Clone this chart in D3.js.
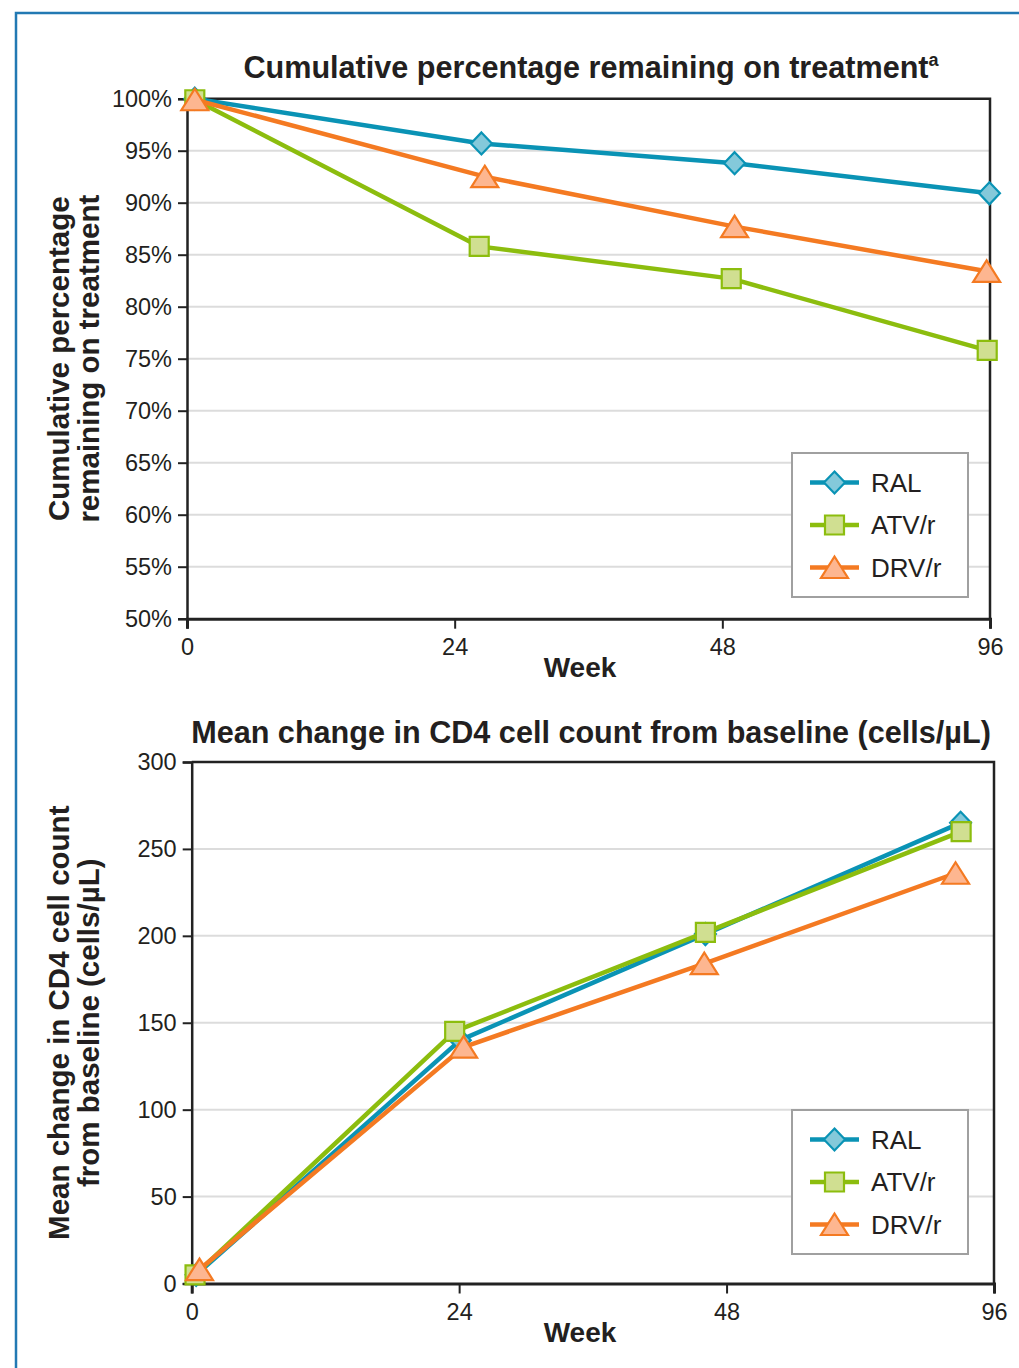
<!DOCTYPE html>
<html>
<head>
<meta charset="utf-8">
<script src="https://cdn.jsdelivr.net/npm/d3@7"></script>
<style>
  html, body { margin: 0; padding: 0; background: #ffffff; }
  svg { display: block; font-family: "Liberation Sans", Arial, Helvetica, sans-serif; }
</style>
</head>
<body>
<svg id="chart" width="1019" height="1368"></svg>
<script>
// ---------- DATA ----------
const weekTicks = [0, 24, 48, 96];
const seriesNames = ["RAL", "ATV/r", "DRV/r"];

// Panel 1: cumulative percentage remaining on treatment
const retentionTicks = [50, 55, 60, 65, 70, 75, 80, 85, 90, 95, 100];
const retentionWeeksRAL = [0.7, 26.4, 50.2, 95.9];
const retentionWeeksATV = [0.7, 26.2, 49.6, 95.5];
const retentionWeeksDRV = [0.7, 26.7, 50.2, 95.4];
const retentionRAL = [100.0, 95.7, 93.8, 90.9];
const retentionATV = [99.9, 85.8, 82.7, 75.8];
const retentionDRV = [99.9, 92.5, 87.7, 83.4];

// Panel 2: mean change in CD4 cell count from baseline (cells/µL)
const cd4Ticks = [0, 50, 100, 150, 200, 250, 300];
const cd4WeeksRAL = [0.4, 24.1, 46.1, 90.0];
const cd4WeeksATV = [0.3, 23.6, 46.1, 90.1];
const cd4WeeksDRV = [0.7, 24.4, 46.0, 89.1];
const cd4RAL = [5, 140, 201, 265];
const cd4ATV = [5, 145, 202, 260];
const cd4DRV = [8, 136, 184, 236];

// ---------- STYLE ----------
const colors = {
  "RAL":   { line: "#0a93b5", fill: "#84c9da" },
  "ATV/r": { line: "#8cbd0e", fill: "#d0df91" },
  "DRV/r": { line: "#f47a22", fill: "#fdb690" }
};
const shapes = {
  "RAL":   "M0,-11L10.5,0L0,11L-10.5,0Z",
  "ATV/r": "M-9.5,-9.5H9.5V9.5H-9.5Z",
  "DRV/r": "M0,-11L13.5,10.5L-13.5,10.5Z"
};

const svg = d3.select("#chart");

// outer blue frame
svg.append("path")
  .attr("d", "M16,1368V13H1019")
  .attr("fill", "none")
  .attr("stroke", "#2279b3")
  .attr("stroke-width", 2.5);

function panel(opt) {
  const x = d3.scaleLinear().domain(weekTicks)
    .range(weekTicks.map((d, i) => opt.left + i * (opt.right - opt.left) / 3));
  const y = d3.scaleLinear().domain(opt.yDomain).range([opt.bottom, opt.top]);
  const g = svg.append("g");

  // gridlines
  g.append("g").selectAll("line")
    .data(opt.yTicks.filter(d => d !== opt.yDomain[0] && d !== opt.yDomain[1]))
    .join("line")
    .attr("x1", opt.left).attr("x2", opt.right)
    .attr("y1", d => y(d)).attr("y2", d => y(d))
    .attr("stroke", "#dcdcdc").attr("stroke-width", 2);

  // frame top & right
  g.append("path")
    .attr("d", `M${opt.left},${opt.top}H${opt.right}V${opt.bottom}`)
    .attr("fill", "none").attr("stroke", "#222").attr("stroke-width", 2.5);

  // y axis
  const yAxis = g.append("g").attr("transform", `translate(${opt.left},0)`)
    .call(d3.axisLeft(y).tickValues(opt.yTicks).tickFormat(opt.yFormat).tickSize(9).tickPadding(6));
  yAxis.select(".domain").attr("stroke", "#222").attr("stroke-width", 2.5);
  yAxis.selectAll(".tick line").attr("stroke", "#222").attr("stroke-width", 2);
  yAxis.selectAll(".tick text").attr("font-size", 23.5).attr("fill", "#231f20")
    .attr("font-family", "Liberation Sans, Arial, sans-serif");

  // x axis
  const xAxis = g.append("g").attr("transform", `translate(0,${opt.bottom})`)
    .call(d3.axisBottom(x).tickValues(weekTicks).tickFormat(d3.format("d")).tickSize(10).tickPadding(10));
  xAxis.select(".domain").attr("stroke", "#222").attr("stroke-width", 3);
  xAxis.selectAll(".tick line").attr("stroke", "#222").attr("stroke-width", 2);
  xAxis.selectAll(".tick text").attr("font-size", 23.5).attr("fill", "#231f20")
    .attr("font-family", "Liberation Sans, Arial, sans-serif");

  // titles
  const title = g.append("text")
    .attr("x", 591).attr("y", opt.titleY)
    .attr("text-anchor", "middle").attr("font-size", 30.6).attr("font-weight", "bold")
    .attr("fill", "#231f20");
  title.append("tspan").text(opt.title);
  if (opt.titleSup) title.append("tspan").attr("font-size", 18).attr("dy", -12).text(opt.titleSup);

  g.append("text")
    .attr("x", 580).attr("y", opt.bottom + 58)
    .attr("text-anchor", "middle").attr("font-size", 28).attr("font-weight", "bold")
    .attr("fill", "#231f20").text("Week");

  const yt = g.append("text")
    .attr("transform", `translate(0,${(opt.top + opt.bottom) / 2}) rotate(-90)`)
    .attr("text-anchor", "middle").attr("font-size", 29.5).attr("font-weight", "bold")
    .attr("fill", "#231f20");
  yt.append("tspan").attr("x", 0).attr("y", 68.5).text(opt.yTitle[0]);
  yt.append("tspan").attr("x", 0).attr("y", 98.5).text(opt.yTitle[1]);

  // series
  const line = d3.line().x(d => x(d[0])).y(d => y(d[1]));
  opt.series.forEach(s => {
    const pts = s.weeks.map((w, i) => [w, s.values[i]]);
    const c = colors[s.name];
    g.append("path").datum(pts).attr("d", line)
      .attr("fill", "none").attr("stroke", c.line).attr("stroke-width", 4.5)
      .attr("stroke-linejoin", "round");
    g.append("g").selectAll("path").data(pts).join("path")
      .attr("d", shapes[s.name])
      .attr("transform", d => `translate(${x(d[0])},${y(d[1])})`)
      .attr("fill", c.fill).attr("stroke", c.line).attr("stroke-width", 2.2);
  });

  // legend
  const lg = g.append("g");
  lg.append("rect")
    .attr("x", 792).attr("y", opt.legendTop).attr("width", 176).attr("height", 144)
    .attr("fill", "#fff").attr("stroke", "#a0a0a0").attr("stroke-width", 2);
  seriesNames.forEach((n, i) => {
    const cy = opt.legendTop + 29.5 + i * 42.5;
    const c = colors[n];
    lg.append("line").attr("x1", 810).attr("x2", 859).attr("y1", cy).attr("y2", cy)
      .attr("stroke", c.line).attr("stroke-width", 4.5);
    lg.append("path").attr("d", shapes[n]).attr("transform", `translate(834.5,${cy})`)
      .attr("fill", c.fill).attr("stroke", c.line).attr("stroke-width", 2.2);
    lg.append("text").attr("x", 871).attr("y", cy + 9)
      .attr("font-size", 26).attr("fill", "#231f20").text(n);
  });
}

panel({
  left: 187, right: 990, top: 98.7, bottom: 618.7,
  yDomain: [50, 100], yTicks: retentionTicks, yFormat: d => d + "%",
  title: "Cumulative percentage remaining on treatment", titleSup: "a", titleY: 78,
  yTitle: ["Cumulative percentage", "remaining on treatment"],
  legendTop: 453,
  series: [
    { name: "RAL", weeks: retentionWeeksRAL, values: retentionRAL },
    { name: "ATV/r", weeks: retentionWeeksATV, values: retentionATV },
    { name: "DRV/r", weeks: retentionWeeksDRV, values: retentionDRV }
  ]
});

panel({
  left: 191.7, right: 994, top: 762, bottom: 1283.5,
  yDomain: [0, 300], yTicks: cd4Ticks, yFormat: d3.format("d"),
  title: "Mean change in CD4 cell count from baseline (cells/\u00b5L)", titleY: 743,
  yTitle: ["Mean change in CD4 cell count", "from baseline (cells/\u00b5L)"],
  legendTop: 1110,
  series: [
    { name: "RAL", weeks: cd4WeeksRAL, values: cd4RAL },
    { name: "ATV/r", weeks: cd4WeeksATV, values: cd4ATV },
    { name: "DRV/r", weeks: cd4WeeksDRV, values: cd4DRV }
  ]
});
</script>
</body>
</html>
